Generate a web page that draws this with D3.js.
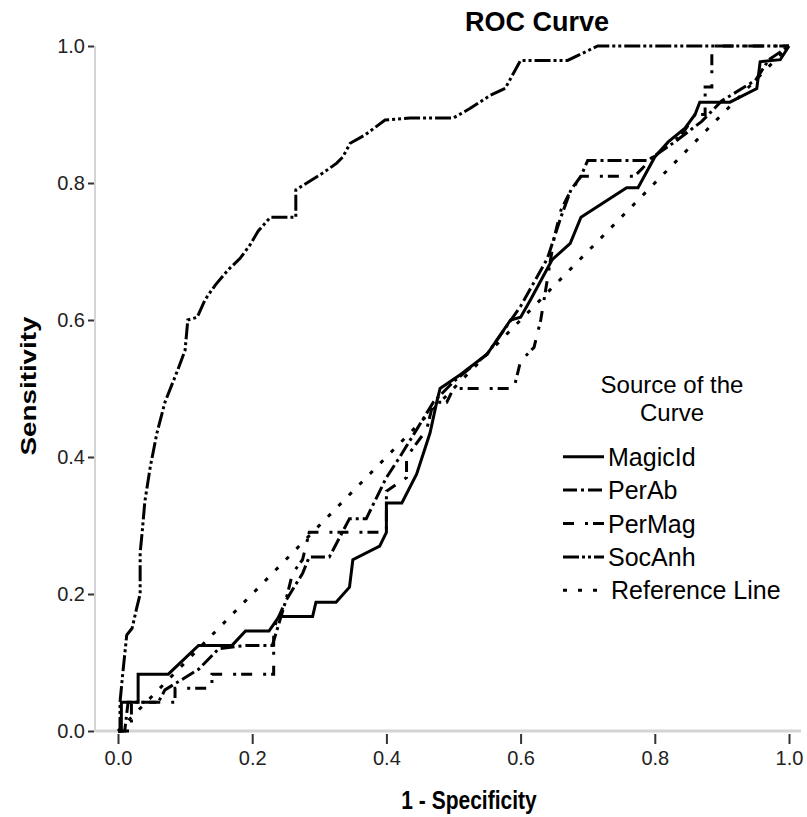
<!DOCTYPE html>
<html><head><meta charset="utf-8">
<script src="https://cdn.jsdelivr.net/npm/d3@7"></script>
<style>html,body{margin:0;padding:0;background:#fff;} svg{display:block;}</style>
</head><body>
<script>
const seriesNames = ["MagicId","PerAb","PerMag","SocAnh","Reference Line"];
const xTicks = [0,0.2,0.4,0.6,0.8,1.0];
const yTicks = [0,0.2,0.4,0.6,0.8,1.0];

const magicIdFpr = [0,0.005,0.005,0.03,0.03,0.075,0.12,0.17,0.19,0.225,0.24,0.29,0.295,0.325,0.345,0.35,0.39,0.40,0.40,0.423,0.445,0.465,0.475,0.48,0.51,0.55,0.585,0.6,0.615,0.647,0.674,0.69,0.758,0.775,0.8,0.82,0.845,0.86,0.867,0.912,0.952,0.957,0.987,1];
const magicIdTpr = [0,0,0.042,0.042,0.083,0.083,0.125,0.125,0.146,0.146,0.167,0.167,0.188,0.188,0.21,0.25,0.27,0.29,0.333,0.333,0.375,0.435,0.48,0.5,0.52,0.55,0.6,0.604,0.63,0.688,0.712,0.75,0.793,0.793,0.838,0.86,0.88,0.9,0.918,0.918,0.938,0.977,0.98,1];

const perAbFpr = [0,0.01,0.015,0.06,0.07,0.12,0.15,0.19,0.23,0.25,0.275,0.285,0.315,0.345,0.37,0.40,0.42,0.445,0.47,0.50,0.55,0.60,0.64,0.66,0.675,0.69,0.70,0.79,0.80,0.83,0.87,0.90,0.95,0.97,1];
const perAbTpr = [0,0,0.042,0.042,0.06,0.09,0.12,0.125,0.125,0.19,0.23,0.254,0.254,0.31,0.31,0.37,0.40,0.44,0.48,0.51,0.55,0.62,0.69,0.75,0.79,0.81,0.833,0.833,0.84,0.86,0.89,0.92,0.95,0.98,1];

const perMagFpr = [0,0.02,0.02,0.085,0.085,0.14,0.14,0.232,0.232,0.25,0.26,0.275,0.285,0.37,0.40,0.40,0.43,0.43,0.46,0.47,0.49,0.50,0.59,0.60,0.62,0.63,0.65,0.66,0.67,0.69,0.77,0.80,0.84,0.86,0.875,0.875,0.885,0.885,1];
const perMagTpr = [0,0,0.042,0.042,0.0625,0.0625,0.083,0.083,0.15,0.19,0.23,0.25,0.29,0.29,0.29,0.35,0.37,0.40,0.44,0.48,0.48,0.5,0.5,0.54,0.56,0.6,0.72,0.76,0.78,0.81,0.81,0.84,0.87,0.9,0.9,0.94,0.94,1,1];

const socAnhFpr = [0,0.003,0.003,0.007,0.013,0.021,0.028,0.033,0.033,0.036,0.04,0.048,0.058,0.07,0.089,0.1,0.104,0.118,0.13,0.145,0.164,0.182,0.197,0.209,0.227,0.265,0.265,0.306,0.326,0.335,0.346,0.368,0.398,0.435,0.5,0.525,0.555,0.577,0.6,0.67,0.715,1];
const socAnhTpr = [0,0,0.042,0.083,0.14,0.15,0.18,0.2,0.26,0.29,0.335,0.385,0.435,0.48,0.527,0.556,0.6,0.604,0.63,0.651,0.673,0.69,0.71,0.73,0.75,0.75,0.79,0.815,0.829,0.838,0.858,0.87,0.892,0.895,0.895,0.909,0.928,0.938,0.979,0.979,1,1];

const refFpr = [0,1];
const refTpr = [0,1];

const dashes = [null, "14,4,3,4", "11,11,3,5", "16,3,3,3,3,3", "4,11"];

const W = 807, H = 817;
const svg = d3.select("body").append("svg").attr("width", W).attr("height", H);
const font = "'Liberation Sans', Arial, sans-serif";

const x = d3.scaleLinear().domain([0,1]).range([118,789]);
const y = d3.scaleLinear().domain([0,1]).range([731,46]);

// axis lines
svg.append("line").attr("x1",95).attr("x2",95).attr("y1",46).attr("y2",732).attr("stroke","#d4d4d4").attr("stroke-width",2);
svg.append("line").attr("x1",95).attr("x2",801).attr("y1",731).attr("y2",731).attr("stroke","#d4d4d4").attr("stroke-width",3);

// y axis
const yAxis = d3.axisLeft(y).tickValues(yTicks).tickFormat(d3.format(".1f")).tickSize(6).tickPadding(3);
const gy = svg.append("g").attr("transform","translate(94,0)").call(yAxis);
gy.select(".domain").remove();
gy.selectAll(".tick line").attr("stroke","#333").attr("stroke-width",2);
gy.selectAll("text").attr("font-family",font).attr("font-size",20).attr("fill","#222");

// x axis
const xAxis = d3.axisBottom(x).tickValues(xTicks).tickFormat(d3.format(".1f")).tickSize(10).tickPadding(27);
const gx = svg.append("g").attr("transform","translate(0,734)").call(xAxis);
gx.select(".domain").remove();
gx.selectAll(".tick line").attr("stroke","#333").attr("stroke-width",2);
gx.selectAll("text").attr("font-family",font).attr("font-size",20).attr("fill","#222").attr("dy","-0.3em");

// curves
const line = d3.line().x(d=>x(d[0])).y(d=>y(d[1]));
const all = [
  d3.zip(magicIdFpr, magicIdTpr),
  d3.zip(perAbFpr, perAbTpr),
  d3.zip(perMagFpr, perMagTpr),
  d3.zip(socAnhFpr, socAnhTpr),
  d3.zip(refFpr, refTpr)
];
all.forEach((pts,i)=>{
  svg.append("path").datum(pts).attr("d",line).attr("fill","none")
    .attr("stroke","#000").attr("stroke-width",3)
    .attr("stroke-dasharray",dashes[i]).attr("stroke-linejoin","miter");
});

// title & labels
svg.append("text").attr("x",537).attr("y",31).attr("text-anchor","middle")
  .attr("font-family",font).attr("font-weight","bold").attr("font-size",27).text("ROC Curve");
svg.append("g").attr("transform","translate(469,809) scale(1,1.2)")
  .append("text").attr("text-anchor","middle")
  .attr("font-family",font).attr("font-weight","bold").attr("font-size",21).text("1 - Specificity");
svg.append("text").attr("transform","translate(36,386) rotate(-90)").attr("text-anchor","middle")
  .attr("font-family",font).attr("font-weight","bold").attr("font-size",22)
  .attr("textLength",139).attr("lengthAdjust","spacingAndGlyphs").text("Sensitivity");

// legend
const lg = svg.append("g");
lg.append("text").attr("x",672).attr("y",393).attr("text-anchor","middle")
  .attr("font-family",font).attr("font-size",24).text("Source of the");
lg.append("text").attr("x",672).attr("y",421).attr("text-anchor","middle")
  .attr("font-family",font).attr("font-size",24).text("Curve");
const ly = d3.scaleBand().domain(seriesNames).range([440,607]);
seriesNames.forEach((n,i)=>{
  const yy = ly(n) + ly.bandwidth()/2;
  lg.append("line").attr("x1",563).attr("x2",604).attr("y1",yy).attr("y2",yy)
    .attr("stroke","#000").attr("stroke-width",3).attr("stroke-dasharray",dashes[i]);
  lg.append("text").attr("x", i===4 ? 611 : 608).attr("y",yy+9)
    .attr("font-family",font).attr("font-size",25).text(n);
});
</script>
</body></html>
